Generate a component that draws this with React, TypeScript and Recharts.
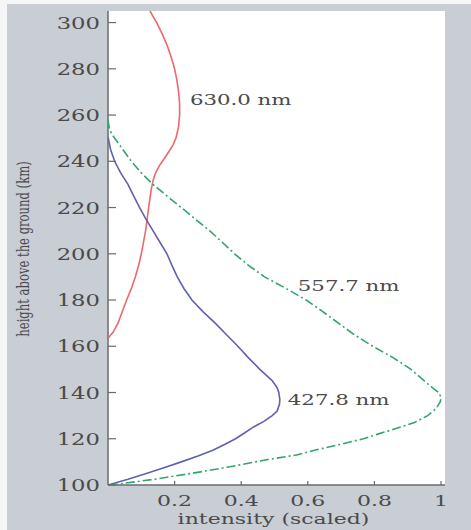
import React from 'react';
import { ScatterChart, Scatter, XAxis, YAxis, ReferenceDot, ReferenceArea } from 'recharts';

// ---- data: [height (km), intensity (scaled)] ----
const redHeights = [305, 300, 295, 290, 285, 280, 275, 270, 265, 260, 255, 250, 247, 244, 241, 238, 235, 232, 228, 220, 210, 200, 195, 190, 185, 180, 175, 170, 166, 163.5];
const redValues = [0.126, 0.146, 0.163, 0.178, 0.19, 0.2, 0.207, 0.212, 0.215, 0.215, 0.212, 0.204, 0.195, 0.182, 0.168, 0.154, 0.143, 0.136, 0.13, 0.122, 0.113, 0.1, 0.092, 0.082, 0.07, 0.056, 0.043, 0.03, 0.015, 0];

const blueHeights = [250.5, 245, 240, 235, 230, 225, 220, 215, 210, 205, 200, 195, 190, 185, 180, 175, 170, 165, 160, 155, 150, 147, 145, 142, 140, 137, 135, 132, 130, 127.5, 125, 122.5, 120, 117.5, 115, 112.5, 110, 107.5, 105, 102.5, 100];
const blueValues = [0, 0.008, 0.02, 0.038, 0.06, 0.077, 0.095, 0.114, 0.135, 0.156, 0.177, 0.192, 0.208, 0.228, 0.252, 0.285, 0.322, 0.356, 0.39, 0.422, 0.456, 0.479, 0.494, 0.508, 0.513, 0.516, 0.515, 0.508, 0.493, 0.468, 0.436, 0.41, 0.383, 0.35, 0.315, 0.27, 0.22, 0.168, 0.115, 0.06, 0];

const greenHeights = [258, 255, 252, 248, 245, 240, 235, 230, 225, 220, 215, 210, 205, 200, 195, 190, 185, 180, 175, 170, 165, 160, 155, 150, 145, 142, 140, 138, 136, 133, 130, 127, 124.5, 122, 120, 117.5, 115, 113, 111, 108, 105, 102.5, 100];
const greenValues = [0, 0.003, 0.01, 0.03, 0.045, 0.07, 0.1, 0.135, 0.177, 0.22, 0.262, 0.305, 0.343, 0.38, 0.422, 0.47, 0.535, 0.595, 0.645, 0.692, 0.74, 0.795, 0.857, 0.91, 0.95, 0.975, 0.993, 1.0, 0.998, 0.985, 0.96, 0.92, 0.867, 0.81, 0.767, 0.695, 0.62, 0.566, 0.48, 0.37, 0.25, 0.14, 0.01];

const xTicks = [0.2, 0.4, 0.6, 0.8, 1];
const yTicks = [100, 120, 140, 160, 180, 200, 220, 240, 260, 280, 300];

const seriesNames = ['630.0 nm', '557.7 nm', '427.8 nm'];
// label anchors (intensity, height) in data units
const labelX = [0.246, 0.57, 0.54];
const labelY = [264.4, 183.8, 134.5];

const toPoints = (h: number[], v: number[]) => h.map((hh, i) => ({ x: v[i], y: hh }));
const redData = toPoints(redHeights, redValues);
const blueData = toPoints(blueHeights, blueValues);
const greenData = toPoints(greenHeights, greenValues);

const X_DOMAIN: [number, number] = [0, 1.012];
const Y_DOMAIN: [number, number] = [100, 305];

const FRAME = '#6a6a6a';
const TEXT = '#4a4a4a';
const FONT = '"DejaVu Serif", serif';
const SX = 1.42;

const NoShape = () => null;

function BottomTick(props: any) {
  const { x, y, payload } = props;
  return (
    <g>
      <line x1={x} y1={y} x2={x} y2={y - 4} stroke={FRAME} strokeWidth={1.2} />
      <text transform={`translate(${x},${y + 21}) scale(${SX},1)`} textAnchor="middle" fontFamily={FONT} fontSize={15.5} fill={TEXT}>
        {String(payload.value)}
      </text>
    </g>
  );
}
function TopTick(props: any) {
  const { x, y } = props;
  return <line x1={x} y1={y} x2={x} y2={y + 4} stroke={FRAME} strokeWidth={1.2} />;
}
function LeftTick(props: any) {
  const { x, y, payload } = props;
  return (
    <g>
      <line x1={x} y1={y} x2={x + 8} y2={y} stroke={FRAME} strokeWidth={1.2} />
      <text transform={`translate(${x - 8},${y + 6}) scale(${SX},1)`} textAnchor="end" fontFamily={FONT} fontSize={16} fill={TEXT}>
        {String(payload.value)}
      </text>
    </g>
  );
}
function RightTick(props: any) {
  const { x, y } = props;
  return <line x1={x} y1={y} x2={x - 8} y2={y} stroke={FRAME} strokeWidth={1.2} />;
}

function XTitle(props: any) {
  const vb = props.viewBox;
  return (
    <text transform={`translate(${vb.x + vb.width / 2 - 3},${vb.y + 38.5}) scale(${SX},1)`} textAnchor="middle" fontFamily={FONT} fontSize={15.5} fill={TEXT}>
      intensity (scaled)
    </text>
  );
}
function YTitle(props: any) {
  const vb = props.viewBox;
  return (
    <text transform={`translate(${vb.x + 22.4},${vb.y + vb.height / 2 + 1}) scale(${SX},1) rotate(-90)`} textAnchor="middle" fontFamily={FONT} fontSize={11.6} fill={TEXT}>
      height above the ground (km)
    </text>
  );
}
function makeNote(text: string) {
  return (props: any) => {
    const vb = props.viewBox;
    return (
      <text transform={`translate(${vb.x},${vb.y}) scale(${SX},1)`} textAnchor="start" fontFamily={FONT} fontSize={15} fill={TEXT}>
        {text}
      </text>
    );
  };
}

export default function App() {
  return (
    <div style={{ position: 'absolute', left: 0, top: 0, width: 471, height: 530, background: '#f6f6f6', overflow: 'hidden' }}>
      <div style={{ position: 'absolute', left: 7, top: 4, width: 464, height: 526, background: '#c9cdd4' }}>
        <ScatterChart width={464} height={526} margin={{ top: 7, right: 26, bottom: 0, left: 0 }}>
          <XAxis xAxisId="b" type="number" dataKey="x" domain={X_DOMAIN} ticks={xTicks} interval={0} allowDataOverflow
            orientation="bottom" height={45} tickSize={0} tickMargin={0} tickLine={false} tick={BottomTick}
            axisLine={{ stroke: FRAME, strokeWidth: 1.5 }} label={{ content: XTitle }} />
          <XAxis xAxisId="t" type="number" dataKey="x" domain={X_DOMAIN} ticks={xTicks} interval={0} allowDataOverflow
            orientation="top" height={0} tickSize={0} tickMargin={0} tickLine={false} tick={TopTick}
            axisLine={{ stroke: FRAME, strokeWidth: 1.2 }} />
          <YAxis yAxisId="l" type="number" dataKey="y" domain={Y_DOMAIN} ticks={yTicks} interval={0} allowDataOverflow
            orientation="left" width={101} tickSize={0} tickMargin={0} tickLine={false} tick={LeftTick}
            axisLine={{ stroke: FRAME, strokeWidth: 1.5 }} label={{ content: YTitle }} />
          <YAxis yAxisId="r" type="number" dataKey="y" domain={Y_DOMAIN} ticks={yTicks} interval={0} allowDataOverflow
            orientation="right" width={0} tickSize={0} tickMargin={0} tickLine={false} tick={RightTick}
            axisLine={{ stroke: '#555', strokeWidth: 2 }} />
          <ReferenceArea xAxisId="b" yAxisId="l" x1={X_DOMAIN[0]} x2={X_DOMAIN[1]} y1={Y_DOMAIN[0]} y2={Y_DOMAIN[1]}
            fill="#ffffff" fillOpacity={1} stroke="none" ifOverflow="extendDomain" />
          <Scatter xAxisId="b" yAxisId="l" data={redData} line={{ stroke: '#f0676b', strokeWidth: 1.6 }} lineType="joint"
            shape={NoShape} isAnimationActive={false} />
          <Scatter xAxisId="b" yAxisId="l" data={blueData} line={{ stroke: '#6060b4', strokeWidth: 1.6 }} lineType="joint"
            shape={NoShape} isAnimationActive={false} />
          <Scatter xAxisId="b" yAxisId="l" data={greenData} line={{ stroke: '#33a56c', strokeWidth: 1.6, strokeDasharray: '9 3 2 3' }} lineType="joint"
            shape={NoShape} isAnimationActive={false} />
          {seriesNames.map((n, i) => (
            <ReferenceDot key={n} xAxisId="b" yAxisId="l" x={labelX[i]} y={labelY[i]} r={0} fill="none" stroke="none"
              label={{ content: makeNote(n) }} />
          ))}
        </ScatterChart>
      </div>
    </div>
  );
}
